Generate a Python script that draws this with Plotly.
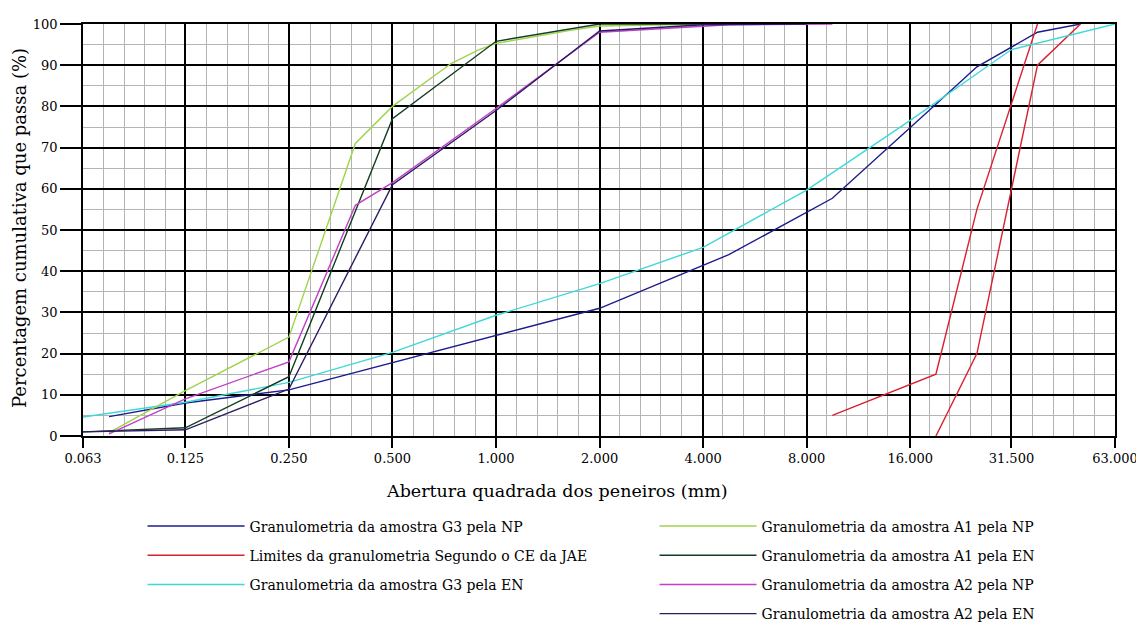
import numpy as np
import plotly.graph_objects as go

# ---- axis ticks ----
sieve_ticks = [0.063, 0.125, 0.25, 0.5, 1.0, 2.0, 4.0, 8.0, 16.0, 31.5, 63.0]
tick_labels = ["0.063", "0.125", "0.250", "0.500", "1.000", "2.000",
               "4.000", "8.000", "16.000", "31.500", "63.000"]
y_ticks = list(range(0, 101, 10))

# ---- series (sieve opening mm, cumulative % passing) ----
g3_np_size = [0.075, 0.125, 0.25, 0.5, 1.0, 2.0, 4.75, 9.5, 19.0, 25.0, 37.5, 50.0]
g3_np_pass = [4.7, 8.0, 11.2, 17.8, 24.5, 31.0, 44.0, 57.7, 80.5, 89.6, 98.0, 100.0]

lim_size = [9.5, 19.0, 25.0, 37.5, None, 19.0, 25.0, 37.5, 50.0]
lim_pass = [5.0, 15.0, 55.0, 100.0, None, 0.0, 20.0, 90.0, 100.0]

g3_en_size = [0.063, 0.125, 0.25, 0.5, 1.0, 2.0, 4.0, 8.0, 16.0, 31.5, 63.0]
g3_en_pass = [4.6, 8.2, 13.0, 20.3, 29.3, 37.0, 45.8, 59.7, 76.6, 93.8, 100.0]

a1_np_size = [0.075, 0.125, 0.25, 0.39, 0.5, 0.74, 0.89, 1.0, 1.66, 2.0, 4.0]
a1_np_pass = [0.8, 11.0, 24.0, 71.0, 80.0, 90.4, 93.7, 95.3, 98.5, 99.5, 100.0]

a1_en_size = [0.063, 0.125, 0.25, 0.5, 1.0, 2.0, 4.0]
a1_en_pass = [1.0, 2.0, 14.4, 77.0, 95.8, 100.0, 100.0]

a2_np_size = [0.075, 0.125, 0.25, 0.39, 0.5, 1.0, 2.0, 4.75, 9.5]
a2_np_pass = [0.5, 9.0, 18.0, 56.0, 61.5, 79.5, 98.0, 99.8, 100.0]

a2_en_size = [0.063, 0.125, 0.25, 0.5, 1.0, 2.0, 4.0, 8.0]
a2_en_pass = [1.0, 1.5, 11.4, 61.0, 79.0, 98.3, 99.8, 100.0]

series = [
    ("Granulometria da amostra G3 pela NP", g3_np_size, g3_np_pass, "#1c1c8c", "legend"),
    ("Limites da granulometria Segundo o CE da JAE", lim_size, lim_pass, "#d8202e", "legend"),
    ("Granulometria da amostra G3 pela EN", g3_en_size, g3_en_pass, "#3ed8d8", "legend"),
    ("Granulometria da amostra A1 pela NP", a1_np_size, a1_np_pass, "#9fd44c", "legend2"),
    ("Granulometria da amostra A1 pela EN", a1_en_size, a1_en_pass, "#123d20", "legend2"),
    ("Granulometria da amostra A2 pela NP", a2_np_size, a2_np_pass, "#c040c8", "legend2"),
    ("Granulometria da amostra A2 pela EN", a2_en_size, a2_en_pass, "#2d1a66", "legend2"),
]

FONT = "DejaVu Serif"

fig = go.Figure()
for name, xs, ys, color, leg in series:
    fig.add_trace(go.Scatter(
        x=xs, y=ys, mode="lines", name=name, connectgaps=False,
        line=dict(color=color, width=1.4), legend=leg, legendgroup=name,
    ))

# minor grid positions: 5 equal log-subdivisions per octave
lo, hi = np.log2(sieve_ticks[0]), np.log2(sieve_ticks[-1])
minor_x = [2 ** v for v in np.linspace(lo, hi, 51)]
minor_x = [m for i, m in enumerate(minor_x) if i % 5 != 0]

leg_common = dict(
    orientation="v", xanchor="left", yanchor="top",
    traceorder="grouped", tracegroupgap=8, itemwidth=97,
    font=dict(family=FONT, size=14, color="black"),
    bgcolor="rgba(0,0,0,0)", borderwidth=0,
)

fig.update_layout(
    width=1144, height=660,
    margin=dict(l=75, r=37, t=16, b=232),
    paper_bgcolor="white", plot_bgcolor="white",
    font=dict(family=FONT, size=13, color="black"),
    showlegend=True,
    legend=dict(x=0.0577, y=-0.1807, **leg_common),
    legend2=dict(x=0.5538, y=-0.1807, **leg_common),
    xaxis=dict(
        type="log",
        range=[np.log10(sieve_ticks[0]), np.log10(sieve_ticks[-1])],
        tickmode="array", tickvals=sieve_ticks, ticktext=tick_labels,
        ticks="outside", ticklen=10, tickwidth=1.5, tickcolor="black",
        showgrid=True, gridcolor="black", gridwidth=1.5,
        minor=dict(tickmode="array", tickvals=minor_x, showgrid=True,
                   gridcolor="#b4b4b4", gridwidth=1, ticks=""),
        showline=True, linecolor="black", linewidth=1.5, mirror=True,
        zeroline=False, automargin=False,
        tickfont=dict(family=FONT, size=13, color="black"),
    ),
    yaxis=dict(
        range=[0, 100], tickmode="array", tickvals=y_ticks,
        ticks="outside", ticklen=21, tickwidth=1.5, tickcolor="black",
        showgrid=True, gridcolor="black", gridwidth=1.5,
        minor=dict(dtick=5, showgrid=True, gridcolor="#b4b4b4", gridwidth=1, ticks=""),
        showline=True, linecolor="black", linewidth=1.5, mirror=True,
        zeroline=False, automargin=False,
        tickfont=dict(family=FONT, size=13, color="black"),
    ),
    annotations=[
        dict(text="Abertura quadrada dos peneiros (mm)", xref="paper", yref="paper",
             x=0.4593, y=-0.1335, xanchor="center", yanchor="middle", showarrow=False,
             font=dict(family=FONT, size=17.5, color="black")),
        dict(text="Percentagem cumulativa que passa (%)", xref="paper", yref="paper",
             x=-0.061, y=0.505, xanchor="center", yanchor="middle", showarrow=False,
             textangle=-90, font=dict(family=FONT, size=18, color="black")),
    ],
)

fig.write_html("out.html")
